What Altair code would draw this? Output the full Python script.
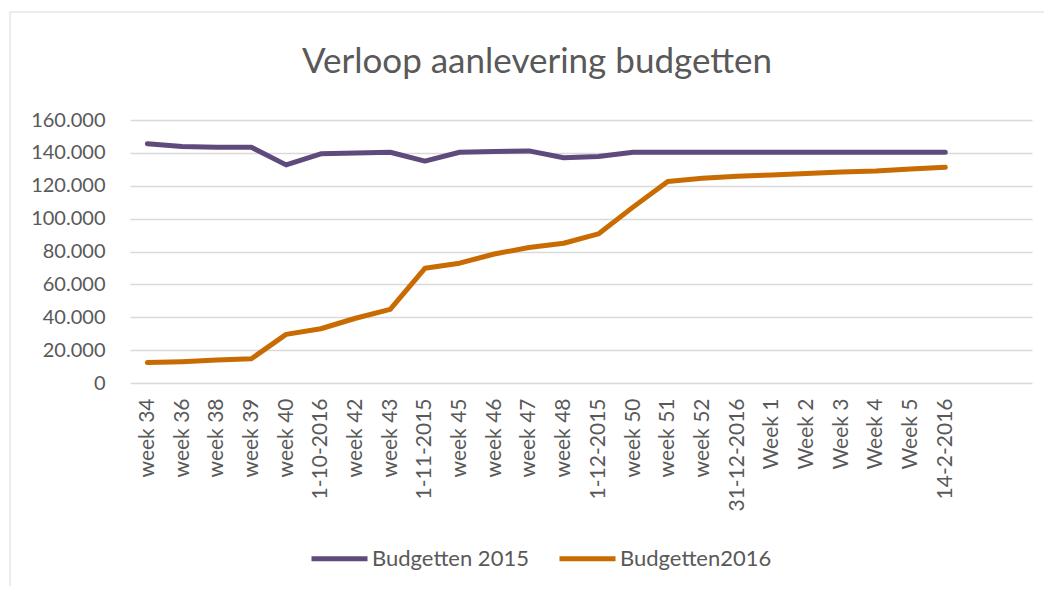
import altair as alt
import pandas as pd

categories = ["week 34", "week 36", "week 38", "week 39", "week 40", "1-10-2016",
              "week 42", "week 43", "1-11-2015", "week 45", "week 46", "week 47",
              "week 48", "1-12-2015", "week 50", "week 51", "week 52", "31-12-2016",
              "Week 1", "Week 2", "Week 3", "Week 4", "Week 5", "14-2-2016"]
empty_slots = ["", " "]

budget_2015 = [145600, 143900, 143400, 143400, 132700, 139400,
               139900, 140400, 135000, 140400, 140800, 141200,
               137000, 137800, 140400, 140400, 140400, 140400,
               140400, 140400, 140400, 140400, 140400, 140400]
budget_2016 = [12400, 13000, 14000, 14800, 29600, 33000,
               39400, 44800, 69800, 72900, 78500, 82400,
               85000, 90700, 107000, 122600, 124600, 125800,
               126600, 127500, 128400, 129000, 130200, 131200]

series_names = ["Budgetten 2015", "Budgetten2016"]
series_colors = ["#5F4B7B", "#C86B02"]

rows = []
for c, v in zip(categories, budget_2015):
    rows.append({"cat": c, "value": v, "series": series_names[0]})
for c, v in zip(categories, budget_2016):
    rows.append({"cat": c, "value": v, "series": series_names[1]})
df = pd.DataFrame(rows)

FONT = "Lato"
GREY = "#595959"

frame = alt.Chart(pd.DataFrame({"a": [0]})).mark_rect(
    fill="transparent", stroke="#D9D9D9", strokeWidth=1
).encode(
    x=alt.value(-120), x2=alt.value(960), y=alt.value(-108), y2=alt.value(520)
)

lines = alt.Chart(df).mark_line(strokeWidth=5, strokeCap="round", strokeJoin="round").encode(
    x=alt.X("cat:N", sort=categories + empty_slots,
            scale=alt.Scale(type="point", domain=categories + empty_slots, padding=0.5),
            axis=alt.Axis(title=None, labelAngle=270, labelAlign="right", labelBaseline="middle",
                          labelPadding=15, ticks=False, domain=False, grid=False,
                          labelFont=FONT, labelFontSize=21, labelColor=GREY,
                          labelOverlap=False)),
    y=alt.Y("value:Q", scale=alt.Scale(domain=[0, 160000], nice=False),
            axis=alt.Axis(title=None, values=list(range(0, 160001, 20000)),
                          labelExpr="replace(format(datum.value, ',d'), ',', '.')",
                          ticks=False, domain=False, grid=True, gridColor="#D9D9D9",
                          gridWidth=1.5, labelPadding=25,
                          labelFont=FONT, labelFontSize=20, labelColor=GREY)),
    color=alt.Color("series:N",
                    scale=alt.Scale(domain=series_names, range=series_colors),
                    legend=alt.Legend(title=None, orient="none", direction="horizontal",
                                      legendX=179, legendY=408,
                                      symbolType="stroke", symbolSize=3136,
                                      symbolStrokeWidth=5, labelOffset=2,
                                      columnPadding=20, padding=0,
                                      labelFont=FONT, labelFontSize=22, labelColor=GREY)),
    order=alt.value(0),
)

chart = alt.layer(frame, lines).properties(
    width=902, height=263,
    padding={"left": 122, "top": 112, "right": 12, "bottom": 203},
    autosize=alt.AutoSizeParams(type="none"),
    title=alt.TitleParams("Verloop aanlevering budgetten", font=FONT, fontSize=35,
                          fontWeight="normal", color=GREY, anchor="middle", dx=-44,
                          offset=-68),
).configure_view(stroke=None)

chart.save("out.html", embed_options={"renderer": "svg", "actions": False})
